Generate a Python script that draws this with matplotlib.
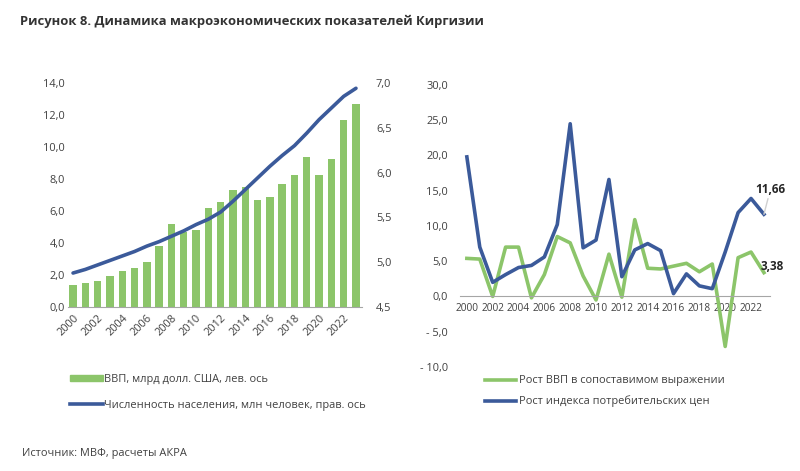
import matplotlib.pyplot as plt
from matplotlib.ticker import FuncFormatter
from matplotlib.lines import Line2D
from matplotlib.patches import Patch

plt.rcParams['font.family'] = ['Open Sans', 'DejaVu Sans']

years = list(range(2000, 2024))
gdp_usd = [1.40, 1.50, 1.65, 1.92, 2.23, 2.46, 2.83, 3.80, 5.17, 4.69, 4.79, 6.19,
           6.58, 7.31, 7.50, 6.67, 6.85, 7.70, 8.27, 9.35, 8.27, 9.23, 11.69, 12.70]
population = [4.88, 4.92, 4.97, 5.02, 5.07, 5.12, 5.18, 5.23, 5.29, 5.35, 5.42, 5.48,
              5.56, 5.68, 5.81, 5.94, 6.07, 6.19, 6.30, 6.44, 6.59, 6.72, 6.85, 6.94]
gdp_growth = [5.4, 5.3, 0.0, 7.0, 7.0, -0.2, 3.1, 8.5, 7.6, 2.9, -0.5, 6.0,
              -0.1, 10.9, 4.0, 3.9, 4.3, 4.7, 3.5, 4.6, -7.1, 5.5, 6.3, 3.38]
cpi_growth = [19.8, 7.0, 2.0, 3.1, 4.1, 4.4, 5.6, 10.2, 24.5, 6.9, 8.0, 16.6,
              2.8, 6.6, 7.5, 6.5, 0.4, 3.2, 1.5, 1.1, 6.3, 11.9, 13.9, 11.66]

GREEN = "#8CC56A"
BLUE = "#3B5A9A"
TXT = "#404040"
AXIS = "#A6A6A6"
FS = 7.9

def fmt(v, pos=None):
    s = f"{abs(v):.1f}".replace(".", ",")
    return f"- {s}" if v < 0 else s

x = list(range(len(years)))

fig = plt.figure(figsize=(8, 4.71), dpi=100)
fig.text(0.025, 0.955, "Рисунок 8. Динамика макроэкономических показателей Киргизии",
         fontsize=9.4, fontweight="bold", color="#333333", va="center")
fig.text(0.027, 0.038, "Источник: МВФ, расчеты АКРА", fontsize=FS, color=TXT, va="center")

# левый график
ax = fig.add_axes([0.085, 0.348, 0.3675, 0.476])
ax.bar(x, gdp_usd, width=0.6, color=GREEN)
ax.set_xlim(-0.41, 23.49)
ax.set_ylim(0, 14)
ax.set_yticks([0, 2, 4, 6, 8, 10, 12, 14])
ax.yaxis.set_major_formatter(FuncFormatter(fmt))
ax.set_xticks(x[::2])
ax.set_xticklabels([str(y) for y in years[::2]], rotation=45, ha="right",
                   rotation_mode="anchor")
for s in ["top", "right", "left"]:
    ax.spines[s].set_visible(False)
ax.spines["bottom"].set_color(AXIS)
ax.tick_params(length=0, labelsize=FS, colors=TXT, pad=2)
ax.tick_params(axis="x", pad=4)

ax2 = ax.twinx()
ax2.plot(x, population, color=BLUE, lw=2.6, solid_capstyle="round")
ax2.set_ylim(4.5, 7.0)
ax2.set_yticks([4.5, 5.0, 5.5, 6.0, 6.5, 7.0])
ax2.yaxis.set_major_formatter(FuncFormatter(fmt))
for s in ["top", "right", "left", "bottom"]:
    ax2.spines[s].set_visible(False)
ax2.tick_params(length=0, labelsize=FS, colors=TXT, pad=10)

fig.legend(handles=[Patch(color=GREEN), Line2D([], [], color=BLUE, lw=2.6)],
           labels=["ВВП, млрд долл. США, лев. ось",
                   "Численность населения, млн человек, прав. ось"],
           loc="upper left", bbox_to_anchor=(0.075, 0.227), frameon=False,
           fontsize=FS, handlelength=3.0, handleheight=0.5, handletextpad=0.1,
           labelspacing=1.35, labelcolor=TXT)

# правый график
bx = fig.add_axes([0.5755, 0.221, 0.3875, 0.5985])
bx.plot(x, gdp_growth, color=GREEN, lw=2.6)
bx.plot(x, cpi_growth, color=BLUE, lw=2.6)
bx.set_xlim(-0.5, 23.5)
bx.set_ylim(-10, 30)
bx.set_yticks(range(-10, 31, 5))
bx.yaxis.set_major_formatter(FuncFormatter(fmt))
bx.set_xticks(x[::2])
bx.set_xticklabels([str(y) for y in years[::2]])
bx.spines["bottom"].set_position(("data", 0))
bx.spines["bottom"].set_color(AXIS)
for s in ["top", "right", "left"]:
    bx.spines[s].set_visible(False)
bx.tick_params(length=0, labelsize=FS, colors=TXT)
bx.tick_params(axis="y", pad=9)
bx.tick_params(axis="x", pad=5, labelsize=7.3)

bx.annotate("11,66", xy=(x[-1], cpi_growth[-1]), xytext=(x[-1] + 0.5, 15.2),
            fontsize=8.5, fontweight="bold", color="#262626", ha="center", va="center",
            arrowprops=dict(arrowstyle="-", color="#D0D0D0", lw=1,
                            shrinkA=0, shrinkB=0))
bx.text(x[-1] - 0.25, gdp_growth[-1] + 0.8, "3,38", fontsize=8.5, fontweight="bold",
        color="#262626", ha="left", va="center")

fig.legend(handles=[Line2D([], [], color=GREEN, lw=2.6),
                    Line2D([], [], color=BLUE, lw=2.6)],
           labels=["Рост ВВП в сопоставимом выражении",
                   "Рост индекса потребительских цен"],
           loc="upper left", bbox_to_anchor=(0.594, 0.224),
           frameon=False, fontsize=FS, handlelength=2.8, handletextpad=0.3,
           labelspacing=0.85, labelcolor=TXT)

fig.savefig("out.png", dpi=100)
